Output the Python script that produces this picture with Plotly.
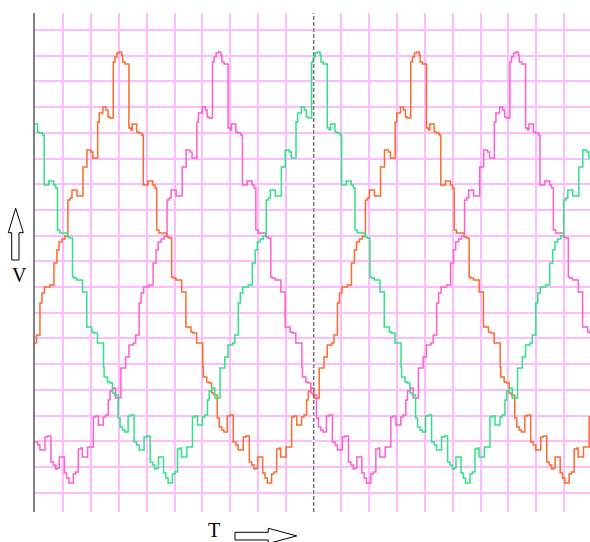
import plotly.graph_objects as go

# ---- data: step waveforms (time in samples, voltage in arbitrary units) ----
orange_t = [-5.3, -0.8, 1.5,
    5, 7, 9.5, 15, 19.1, 22.1, 24.2, 27.2, 30.2, 33.2,
    35.3, 37.3, 42.3, 48.4, 52.4, 56.4, 58.4, 63.2, 64.8, 68.5,
    71.6, 73.6, 75.6, 78.9, 80.6, 82.6, 84.7, 87.4, 88.4, 90.7,
    94.7, 96.8, 98.1, 102.5, 104.5, 107.6, 109.2, 113.9, 118.9, 121,
    122.7, 125, 132.8, 135.1, 137.8, 139.1, 142.1, 147.9, 152.2, 157.3,
    159.3, 163, 169.1, 169.7, 173.1, 175.4, 178.1, 180.5, 183.8, 185.8,
    188.2, 190.5, 193.9, 196.6, 199.9, 202.6, 205, 210, 212.7, 216.1,
    218.5, 220.8, 222.8, 224.5, 229.6, 231.9, 234.2, 238.6, 241, 243.7,
    246.3, 247.7, 253.1, 258.8, 261.1, 263.9, 268.9, 271.2, 273.9, 275.6,
    278.3, 281.3, 286.6, 291.4, 294.7, 299.2, 301.5,
    305, 307, 309.5, 315, 319.1, 322.1, 324.2, 327.2, 330.2, 333.2,
    335.3, 337.3, 342.3, 348.4, 352.4, 356.4, 358.4, 363.2, 364.8, 368.5,
    371.6, 373.6, 375.6, 378.9, 380.6, 382.6, 384.7, 387.4, 388.4, 390.7,
    394.7, 396.8, 398.1, 402.5, 404.5, 407.6, 409.2, 413.9, 418.9, 421,
    422.7, 425, 432.8, 435.1, 437.8, 439.1, 442.1, 447.9, 452.2, 457.3,
    459.3, 463, 469.1, 469.7, 473.1, 475.4, 478.1, 480.5, 483.8, 485.8,
    488.2, 490.5, 493.9, 496.6, 499.9, 502.6, 505, 510, 512.7, 516.1,
    518.5, 520.8, 522.8, 524.5, 529.6, 531.9, 534.2, 538.6, 541, 543.7,
    546.3, 547.7, 553.1, 558.8, 561.1]
orange_v = [-77, -75, -67,
    -35, -25, -19, -17, 5, 18, 26, 29, 32, 68,
    70, 78, 72, 101, 118, 116, 110, 146, 155, 161,
    158, 151, 150, 206, 211, 215, 216, 213, 206, 204,
    140, 138, 144, 136, 135, 133, 83, 87, 83, 80,
    38, 35, 31, 30, -9, -10, -12, -24, -59, -64,
    -65, -75, -99, -109, -114, -115, -125, -127, -150, -159,
    -162, -164, -148, -147, -174, -177, -182, -169, -168, -194,
    -197, -201, -200, -189, -205, -210, -215, -206, -204, -181,
    -180, -189, -179, -149, -148, -157, -149, -147, -132, -123,
    -120, -130, -100, -89, -77, -75, -67,
    -35, -25, -19, -17, 5, 18, 26, 29, 32, 68,
    70, 78, 72, 101, 118, 116, 110, 146, 155, 161,
    158, 151, 150, 206, 211, 215, 216, 213, 206, 204,
    140, 138, 144, 136, 135, 133, 83, 87, 83, 80,
    38, 35, 31, 30, -9, -10, -12, -24, -59, -64,
    -65, -75, -99, -109, -114, -115, -125, -127, -150, -159,
    -162, -164, -148, -147, -174, -177, -182, -169, -168, -194,
    -197, -201, -200, -189, -205, -210, -215, -206, -204, -181,
    -180, -189, -179, -149, -148]

magenta_t = [-0.1, 2.6, 5, 10, 12.7, 16.1, 18.5, 20.8, 22.8, 24.5,
    29.6, 31.9, 34.2, 38.6, 41, 43.7, 46.3, 47.7, 53.1, 58.8,
    61.1, 63.9, 68.9, 71.2, 73.9, 75.6, 78.3, 81.3, 86.6, 91.4,
    94.7, 99.2, 101.5,
    105, 107, 109.5, 115, 119.1, 122.1, 124.2, 127.2, 130.2, 133.2,
    135.3, 137.3, 142.3, 148.4, 152.4, 156.4, 158.4, 163.2, 164.8, 168.5,
    171.6, 173.6, 175.6, 178.9, 180.6, 182.6, 184.7, 187.4, 188.4, 190.7,
    194.7, 196.8, 198.1, 202.5, 204.5, 207.6, 209.2, 213.9, 218.9, 221,
    222.7, 225, 232.8, 235.1, 237.8, 239.1, 242.1, 247.9, 252.2, 257.3,
    259.3, 263, 269.1, 269.7, 273.1, 275.4, 278.1, 280.5, 283.8, 285.8,
    288.2, 290.5, 293.9, 296.6, 299.9, 302.6, 305, 310, 312.7, 316.1,
    318.5, 320.8, 322.8, 324.5, 329.6, 331.9, 334.2, 338.6, 341, 343.7,
    346.3, 347.7, 353.1, 358.8, 361.1, 363.9, 368.9, 371.2, 373.9, 375.6,
    378.3, 381.3, 386.6, 391.4, 394.7, 399.2, 401.5,
    405, 407, 409.5, 415, 419.1, 422.1, 424.2, 427.2, 430.2, 433.2,
    435.3, 437.3, 442.3, 448.4, 452.4, 456.4, 458.4, 463.2, 464.8, 468.5,
    471.6, 473.6, 475.6, 478.9, 480.6, 482.6, 484.7, 487.4, 488.4, 490.7,
    494.7, 496.8, 498.1, 502.5, 504.5, 507.6, 509.2, 513.9, 518.9, 521,
    522.7, 525, 532.8, 535.1, 537.8, 539.1, 542.1, 547.9, 552.2, 557.3,
    559.3, 563]
magenta_v = [-174, -177, -182, -169, -168, -194, -197, -201, -200, -189,
    -205, -210, -215, -206, -204, -181, -180, -189, -179, -149,
    -148, -157, -149, -147, -132, -123, -120, -130, -100, -89,
    -77, -75, -67,
    -35, -25, -19, -17, 5, 18, 26, 29, 32, 68,
    70, 78, 72, 101, 118, 116, 110, 146, 155, 161,
    158, 151, 150, 206, 211, 215, 216, 213, 206, 204,
    140, 138, 144, 136, 135, 133, 83, 87, 83, 80,
    38, 35, 31, 30, -9, -10, -12, -24, -59, -64,
    -65, -75, -99, -109, -114, -115, -125, -127, -150, -159,
    -162, -164, -148, -147, -174, -177, -182, -169, -168, -194,
    -197, -201, -200, -189, -205, -210, -215, -206, -204, -181,
    -180, -189, -179, -149, -148, -157, -149, -147, -132, -123,
    -120, -130, -100, -89, -77, -75, -67,
    -35, -25, -19, -17, 5, 18, 26, 29, 32, 68,
    70, 78, 72, 101, 118, 116, 110, 146, 155, 161,
    158, 151, 150, 206, 211, 215, 216, 213, 206, 204,
    140, 138, 144, 136, 135, 133, 83, 87, 83, 80,
    38, 35, 31, 30, -9, -10, -12, -24, -59, -64,
    -65, -75]

green_t = [-1.9, 2.5, 4.5, 7.6, 9.2, 13.9, 18.9, 21, 22.7, 25,
    32.8, 35.1, 37.8, 39.1, 42.1, 47.9, 52.2, 57.3, 59.3, 63,
    69.1, 69.7, 73.1, 75.4, 78.1, 80.5, 83.8, 85.8, 88.2, 90.5,
    93.9, 96.6, 99.9, 102.6, 105, 110, 112.7, 116.1, 118.5, 120.8,
    122.8, 124.5, 129.6, 131.9, 134.2, 138.6, 141, 143.7, 146.3, 147.7,
    153.1, 158.8, 161.1, 163.9, 168.9, 171.2, 173.9, 175.6, 178.3, 181.3,
    186.6, 191.4, 194.7, 199.2, 201.5,
    205, 207, 209.5, 215, 219.1, 222.1, 224.2, 227.2, 230.2, 233.2,
    235.3, 237.3, 242.3, 248.4, 252.4, 256.4, 258.4, 263.2, 264.8, 268.5,
    271.6, 273.6, 275.6, 278.9, 280.6, 282.6, 284.7, 287.4, 288.4, 290.7,
    294.7, 296.8, 298.1, 302.5, 304.5, 307.6, 309.2, 313.9, 318.9, 321,
    322.7, 325, 332.8, 335.1, 337.8, 339.1, 342.1, 347.9, 352.2, 357.3,
    359.3, 363, 369.1, 369.7, 373.1, 375.4, 378.1, 380.5, 383.8, 385.8,
    388.2, 390.5, 393.9, 396.6, 399.9, 402.6, 405, 410, 412.7, 416.1,
    418.5, 420.8, 422.8, 424.5, 429.6, 431.9, 434.2, 438.6, 441, 443.7,
    446.3, 447.7, 453.1, 458.8, 461.1, 463.9, 468.9, 471.2, 473.9, 475.6,
    478.3, 481.3, 486.6, 491.4, 494.7, 499.2, 501.5,
    505, 507, 509.5, 515, 519.1, 522.1, 524.2, 527.2, 530.2, 533.2,
    535.3, 537.3, 542.3, 548.4, 552.4, 556.4, 558.4, 563.2]
green_v = [144, 136, 135, 133, 83, 87, 83, 80, 38, 35,
    31, 30, -9, -10, -12, -24, -59, -64, -65, -75,
    -99, -109, -114, -115, -125, -127, -150, -159, -162, -164,
    -148, -147, -174, -177, -182, -169, -168, -194, -197, -201,
    -200, -189, -205, -210, -215, -206, -204, -181, -180, -189,
    -179, -149, -148, -157, -149, -147, -132, -123, -120, -130,
    -100, -89, -77, -75, -67,
    -35, -25, -19, -17, 5, 18, 26, 29, 32, 68,
    70, 78, 72, 101, 118, 116, 110, 146, 155, 161,
    158, 151, 150, 206, 211, 215, 216, 213, 206, 204,
    140, 138, 144, 136, 135, 133, 83, 87, 83, 80,
    38, 35, 31, 30, -9, -10, -12, -24, -59, -64,
    -65, -75, -99, -109, -114, -115, -125, -127, -150, -159,
    -162, -164, -148, -147, -174, -177, -182, -169, -168, -194,
    -197, -201, -200, -189, -205, -210, -215, -206, -204, -181,
    -180, -189, -179, -149, -148, -157, -149, -147, -132, -123,
    -120, -130, -100, -89, -77, -75, -67,
    -35, -25, -19, -17, 5, 18, 26, 29, 32, 68,
    70, 78, 72, 101, 118, 116, 110, 146]

cursor_t = 281          # dashed time cursor
x_label = "T"
y_label = "V"

assert len(orange_t) == len(orange_v)
assert len(magenta_t) == len(magenta_v)
assert len(green_t) == len(green_v)

# ---- figure ----
W, H = 590, 542
ML, MR, MT, MB = 35, 0, 13, 30
PW, PH = W - ML - MR, H - MT - MB
Y_RANGE = [-244, 255]

def px(x):
    return (x - ML) / PW

def py(y):
    return (H - MB - y) / PH

GRID = "#FFBBFF"

fig = go.Figure()

# white backing under the cursor so the grid line does not tint it
fig.add_trace(go.Scatter(x=[cursor_t, cursor_t], y=Y_RANGE, mode="lines",
                         line=dict(color="white", width=2.5), hoverinfo="skip"))

series = [
    (orange_t, orange_v, "#FF6A2E"),
    (magenta_t, magenta_v, "#FF5FC9"),
    (green_t, green_v, "#2FE388"),
]
for t, v, c in series:
    fig.add_trace(go.Scatter(x=t, y=v, mode="lines", line_shape="hv",
                             line=dict(color=c, width=1.5), hoverinfo="skip"))

fig.update_layout(
    width=W, height=H,
    margin=dict(l=ML, r=MR, t=MT, b=MB),
    paper_bgcolor="white", plot_bgcolor="white",
    showlegend=False,
    xaxis=dict(range=[0, 559.66], showgrid=True, gridcolor=GRID, gridwidth=1.5,
               tick0=0.5, dtick=28.05, showticklabels=False, ticks="",
               zeroline=False, showline=False, fixedrange=True),
    yaxis=dict(range=Y_RANGE, showgrid=True, gridcolor=GRID, gridwidth=1.5,
               tick0=238, dtick=25.706, showticklabels=False, ticks="",
               zeroline=False, showline=True, linecolor="#808080", linewidth=2,
               fixedrange=True),
)

# dashed cursor
fig.add_shape(type="line", xref="x", yref="paper", x0=cursor_t, x1=cursor_t,
              y0=0, y1=1, line=dict(color="#777777", width=1.5, dash="4px,2px"))

# hollow up arrow (V axis)
up = [(15.7, 208.3), (23.3, 232.7), (19, 232.7), (19, 260), (11.7, 260),
      (11.7, 232.7), (8.3, 232.7)]
path = "M " + " L ".join(f"{px(a):.5f},{py(b):.5f}" for a, b in up) + " Z"
fig.add_shape(type="path", xref="paper", yref="paper", path=path,
              line=dict(color="black", width=1), fillcolor="white")

# hollow right arrow (T axis)
rt = [(235, 532.3), (268.3, 532.3), (268.3, 528.3), (296.7, 535.9),
      (268.3, 543.5), (268.3, 540), (235, 540)]
path = "M " + " L ".join(f"{px(a):.5f},{py(b):.5f}" for a, b in rt) + " Z"
fig.add_shape(type="path", xref="paper", yref="paper", path=path,
              line=dict(color="black", width=1), fillcolor="white")

font = dict(family="Liberation Serif, Times New Roman, serif", size=20, color="black")
fig.add_annotation(xref="paper", yref="paper", x=px(19.2), y=py(275),
                   text=y_label, showarrow=False, font=font,
                   xanchor="center", yanchor="middle")
fig.add_annotation(xref="paper", yref="paper", x=px(214), y=py(542),
                   text=x_label, showarrow=False, font=font, borderpad=0,
                   xanchor="center", yanchor="bottom")

fig.write_html("out.html", config={"displayModeBar": False},
               post_script="document.body.style.margin='0';document.body.style.overflow='hidden';")
